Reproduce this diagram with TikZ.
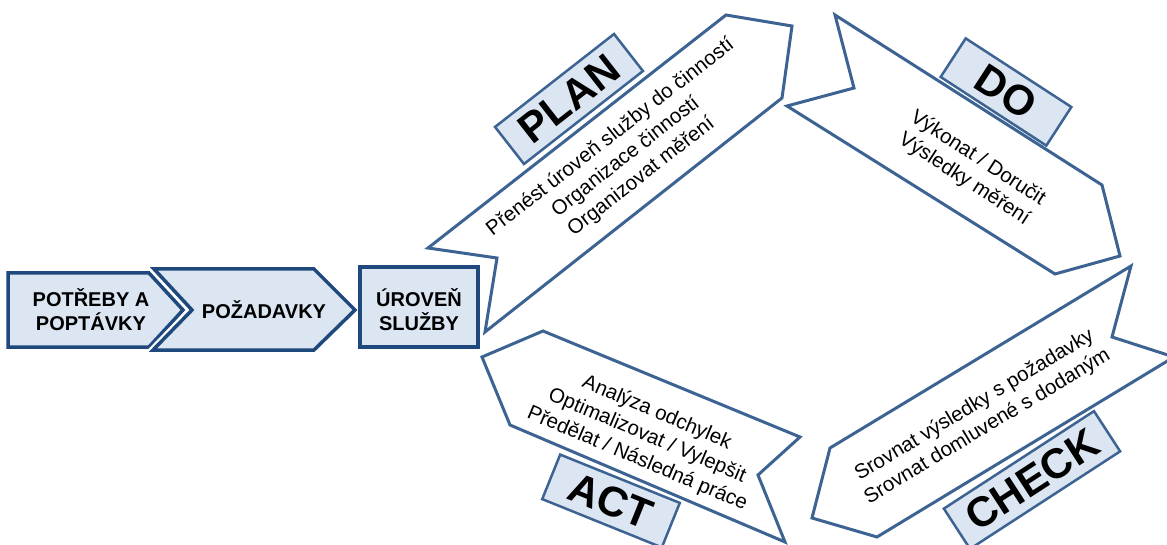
\documentclass[tikz,border=0pt]{standalone}
\usepackage{fontspec}
\setmainfont{Liberation Sans}
\usepackage{xcolor}
\definecolor{navy}{HTML}{1F497D}
\definecolor{steel}{HTML}{3D6393}
\definecolor{paleblue}{HTML}{DCE6F2}

\begin{document}
\begin{tikzpicture}[x=1pt,y=1pt,yscale=-1,
        boxshape/.style={draw=navy,fill=paleblue,line width=3.5pt},
        arrowshape/.style={draw=steel,fill=white,line width=3pt},
        tagbox/.style={draw=steel,fill=paleblue,line width=2.5pt,inner sep=0pt,font=\fontsize{42}{42}\bfseries\selectfont},
        boxtext/.style={align=center,inner sep=0pt,font=\fontsize{20}{24}\bfseries\selectfont},
        steptext/.style={align=center,inner sep=0pt,font=\fontsize{20.5}{25}\selectfont}]
        \useasboundingbox (0,0) rectangle (1167,545);
        
        %Shape: Polygon [PLAN arrow]
        \draw [arrowshape] (428,248) -- (497,258) -- (485,332) -- (782,98) -- (792,26) -- (726,15) -- cycle ;
        %Shape: Polygon [DO arrow]
        \draw [arrowshape] (835,15) -- (1102,185) -- (1120,256) -- (1055,274) -- (787,106) -- (854,88) -- cycle ;
        %Shape: Polygon [CHECK arrow]
        \draw [arrowshape] (1131,266) -- (1112,337) -- (1174,357) -- (877,537) -- (812,518) -- (830,448) -- cycle ;
        %Shape: Polygon [ACT arrow]
        \draw [arrowshape] (543,331) -- (800,437) -- (758,475) -- (785,542) -- (510,425) -- (482,357) -- cycle ;
        
        %Shape: Pentagon
        \draw [boxshape] (8,273) -- (149,273) -- (183,310) -- (149,347) -- (8,347) -- cycle ;
        %Shape: Chevron
        \draw [boxshape, preaction={draw=white,line width=8pt}] (154,269) -- (314,269) -- (355,310) -- (314,350) -- (153,350) -- (192,310) -- cycle ;
        %Shape: Rectangle
        \draw [boxshape] (360,267) rectangle (478,347) ;
        
        % Text Node
        \node [boxtext] (needs) at (91,310) {POTŘEBY A\\POPTÁVKY};
        \node [boxtext] (demands) at (264,310) {POŽADAVKY};
        \node [boxtext] (level) at (419,310) {ÚROVEŇ\\SLUŽBY};
        
        % Text Node
        \node [tagbox, rotate=38, minimum width=151pt, minimum height=47pt] (plan) at (569,99) {PLAN};
        \node [tagbox, rotate=-33, minimum width=126pt, minimum height=46pt] (do) at (1006,92) {DO};
        \node [tagbox, rotate=33, minimum width=179pt, minimum height=48pt] (check) at (1032,480) {CHECK};
        \node [tagbox, rotate=-22, minimum width=129pt, minimum height=48pt] (act) at (611,501) {ACT};
        
        % Text Node
        \node [steptext, rotate=38] (plantext) at (626,157) {Přenést úroveň služby do činností\\Organizace činností\\Organizovat měření};
        \node [steptext, rotate=-33] (dotext) at (971,169) {Výkonat / Doručit\\Výsledky měření};
        \node [steptext, rotate=31] (checktext) at (981,416) {Srovnat výsledky s požadavky\\Srovnat domluvené s dodaným};
        \node [steptext, rotate=-23] (acttext) at (647,436) {Analýza odchylek\\Optimalizovat / Vylepšit\\Předělat / Následná práce};
        
\end{tikzpicture}
\end{document}
